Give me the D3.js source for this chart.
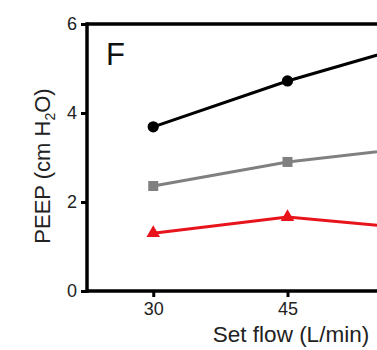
<!DOCTYPE html>
<html><head><meta charset="utf-8">
<script src="https://cdn.jsdelivr.net/npm/d3@7"></script>
<style>html,body{margin:0;padding:0;background:#fff;overflow:hidden}</style>
</head><body>
<script>
const flows = [30, 45, 60];
const seriesBlack = [3.69, 4.72, 5.59];
const seriesGray = [2.36, 2.90, 3.24];
const seriesRed = [1.30, 1.66, 1.39];
const yTicks = [0, 2, 4, 6];
const xTicks = [30, 45];

const W = 377, H = 350;
const svg = d3.select("body").append("svg").attr("width", W).attr("height", H)
  .style("font-family", "Liberation Sans, Arial, sans-serif");

const x = d3.scaleLinear().domain([22.6, 67.4]).range([87, 488]);
const y = d3.scaleLinear().domain([0, 6]).range([291, 24]);

const series = [
  {vals: seriesBlack, color: "#000", shape: "circle"},
  {vals: seriesGray, color: "#808080", shape: "square"},
  {vals: seriesRed, color: "#e8141b", shape: "triangle"}
];

series.forEach(s => {
  const pts = flows.map((f, i) => [f, s.vals[i]]);
  svg.append("path").datum(pts)
    .attr("fill", "none").attr("stroke", s.color).attr("stroke-width", 3)
    .attr("d", d3.line().x(d => x(d[0])).y(d => y(d[1])));
  const sym = s.shape === "circle" ? d3.symbolCircle : s.shape === "square" ? d3.symbolSquare : d3.symbolTriangle;
  const size = s.shape === "circle" ? 100 : s.shape === "square" ? 100 : 80;
  svg.selectAll(null).data(pts).enter().append("path")
    .attr("transform", d => `translate(${x(d[0])},${y(d[1])})`)
    .attr("d", d3.symbol().type(sym).size(size))
    .attr("fill", s.color);
});

// axes
const yAxis = svg.append("g").attr("transform", "translate(87,0)")
  .call(d3.axisLeft(y).tickValues(yTicks).tickFormat(d3.format("d")).tickSize(6).tickPadding(4));
const xAxis = svg.append("g").attr("transform", "translate(0,291)")
  .call(d3.axisBottom(x).tickValues(xTicks).tickFormat(d3.format("d")).tickSize(6).tickPadding(5));
[yAxis, xAxis].forEach(g => {
  g.select(".domain").remove();
  g.selectAll("line").attr("stroke", "#000").attr("stroke-width", 3);
  g.selectAll("text").attr("fill", "#222").style("font-size", "18px")
    .style("font-family", "Liberation Sans, Arial, sans-serif");
});
// frame lines
svg.append("line").attr("x1", 87).attr("x2", W).attr("y1", 291).attr("y2", 291)
  .attr("stroke", "#000").attr("stroke-width", 3.5);
svg.append("line").attr("x1", 87).attr("x2", W).attr("y1", 24).attr("y2", 24)
  .attr("stroke", "#000").attr("stroke-width", 3.5);
svg.append("line").attr("x1", 87).attr("x2", 87).attr("y1", 22.3).attr("y2", 292.7)
  .attr("stroke", "#000").attr("stroke-width", 3.5);

// panel letter
svg.append("text").attr("x", 106).attr("y", 65).text("F")
  .style("font-size", "31px").attr("fill", "#111");

// axis titles
svg.append("text").attr("x", 291).attr("y", 342).attr("text-anchor", "middle")
  .style("font-size", "22.5px").attr("fill", "#222").text("Set flow (L/min)");
const yl = svg.append("text").attr("transform", "translate(50,166) rotate(-90)")
  .attr("text-anchor", "middle").style("font-size", "22px").attr("fill", "#222");
yl.append("tspan").text("PEEP (cm H");
yl.append("tspan").text("2").style("font-size", "14px").attr("dy", 5);
yl.append("tspan").text("O)").attr("dy", -5);
</script>
</body></html>
